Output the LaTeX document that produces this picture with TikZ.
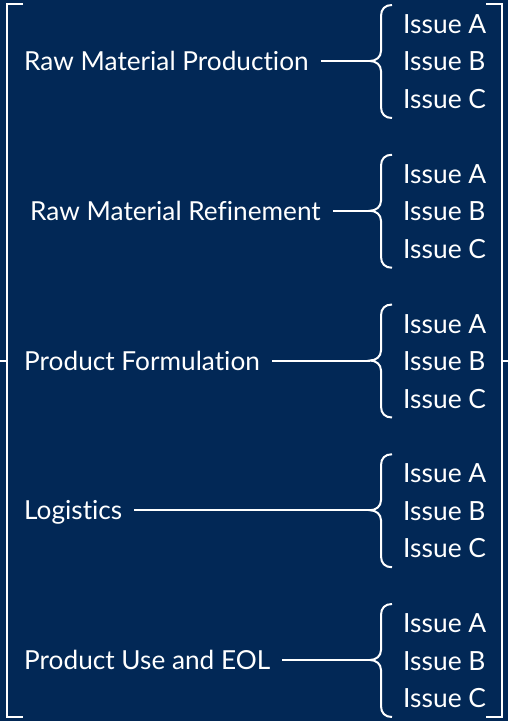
\documentclass[tikz,border=0pt]{standalone}
\usepackage{fontspec}
\setmainfont{Lato}[Ligatures=NoCommon]
\definecolor{navy}{RGB}{2,40,86}
\begin{document}
\begin{tikzpicture}[x=1bp,y=-1bp,
  wline/.style={draw=white, line width=2bp},
  lab/.style={text=white, anchor=base west, inner sep=0pt, font=\fontsize{26.3}{30}\selectfont},
  iss/.style={text=white, anchor=base west, inner sep=0pt, font=\fontsize{26.5}{30}\selectfont}]
\fill[navy] (0,0) rectangle (508,721);
\useasboundingbox (0,0) rectangle (508,721);
% outer brackets
\draw[wline] (23,4) -- (7,4) -- (7,717) -- (23,717);
\draw[wline] (0,360.5) -- (7,360.5);
\draw[wline] (486,4) -- (502,4) -- (502,717) -- (486,717);
\draw[wline] (502,361) -- (508,361);
\foreach \i/\name/\lx/\c in {1/Raw Material Production/24/61,
  2/Raw Material Refinement/30/210.75,
  3/Product Formulation/24/360.5,
  4/Logistics/24/510.25,
  5/Product Use and EOL/24/660} {
  \node[lab] (lab\i) at (\lx,\c+9.5) {\name};
  \node[iss] (isa\i) at (403,\c-27.5) {Issue A};
  \node[iss] (isb\i) at (403,\c+10) {Issue B};
  \node[iss] (isc\i) at (403,\c+47.5) {Issue C};
  \coordinate (tip\i) at (370,\c);
  \draw[wline] (392,\c-56) .. controls (385,\c-56) and (381,\c-52) .. (381,\c-45)
     -- (381,\c-10) .. controls (381,\c-4) and (376,\c) .. (tip\i)
     .. controls (376,\c) and (381,\c+4) .. (381,\c+10)
     -- (381,\c+46) .. controls (381,\c+53) and (385,\c+57) .. (392,\c+57);
  \draw[wline, shorten <=12bp] (lab\i.east |- tip\i) -- (tip\i);
}
\end{tikzpicture}
\end{document}
